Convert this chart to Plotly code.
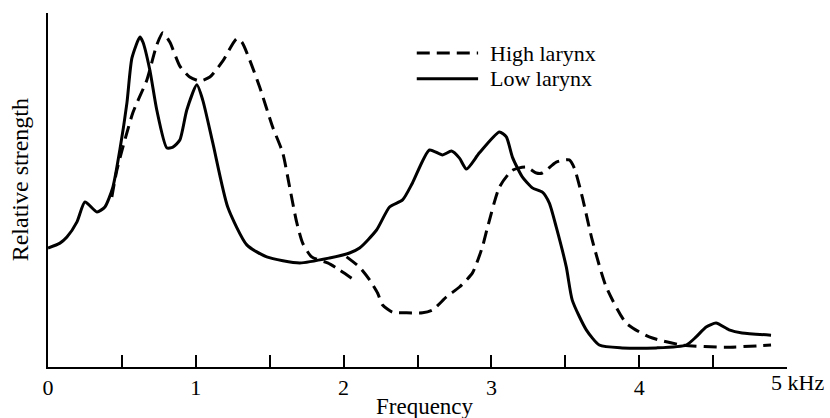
import plotly.graph_objects as go

# Spectral envelopes: frequency in kHz, relative strength in arbitrary units (0-100)
low_freq = [0.00, 0.081, 0.128, 0.196, 0.25, 0.331, 0.385, 0.439, 0.486, 0.534, 0.568, 0.622,
            0.642, 0.689, 0.736, 0.804, 0.845, 0.892, 0.939, 1.007, 1.047, 1.115, 1.216, 1.345,
            1.48, 1.703, 1.905, 2.04, 2.108, 2.223, 2.311, 2.399, 2.466, 2.581, 2.669, 2.730,
            2.784, 2.831, 2.919, 3.054, 3.101, 3.142, 3.209, 3.277, 3.345, 3.392, 3.439, 3.507,
            3.547, 3.642, 3.730, 3.885, 4.115, 4.318, 4.385, 4.453, 4.520, 4.608, 4.696, 4.892]
low_strength = [33.6, 35.0, 36.7, 41.0, 46.6, 43.8, 45.2, 50.8, 61.3, 74.6, 87.3, 93.2,
                91.8, 83.9, 72.6, 61.9, 62.1, 64.1, 72.6, 79.7, 75.4, 63.3, 45.2, 34.5,
                31.1, 29.4, 30.8, 32.2, 33.6, 38.7, 45.2, 47.2, 52.0, 61.3, 59.9, 61.0,
                59.0, 55.9, 60.5, 66.4, 65.0, 59.3, 53.7, 50.6, 49.4, 46.3, 39.5, 28.2,
                18.9, 10.5, 6.2, 5.4, 5.4, 6.2, 8.5, 11.3, 12.4, 10.5, 9.6, 9.0]

# High larynx curve is drawn in two pieces (short stray branch near 2 kHz, then the main run)
high_freq = [0.432, 0.466, 0.574, 0.669, 0.736, 0.777, 0.824, 0.892, 0.959, 1.027, 1.095,
             1.182, 1.277, 1.311, 1.365, 1.432, 1.520, 1.588, 1.635, 1.682, 1.723, 1.784,
             1.892, 1.973, 2.054, None,
             2.020, 2.108, 2.176, 2.230, 2.264, 2.331, 2.426, 2.534, 2.601, 2.696, 2.784,
             2.872, 2.939, 2.973, 3.054, 3.142, 3.236, 3.304, 3.345, 3.439, 3.527, 3.561,
             3.615, 3.682, 3.777, 3.912, 4.068, 4.291, 4.588, 4.892]
high_strength = [48.0, 55.6, 71.8, 81.1, 91.0, 94.4, 91.8, 85.0, 81.9, 80.8, 81.9,
                 86.4, 92.7, 91.8, 86.7, 79.1, 67.8, 60.5, 50.8, 41.0, 35.0, 31.1,
                 29.4, 27.4, 25.1, None,
                 31.1, 28.2, 24.6, 20.9, 17.5, 15.5, 15.3, 15.3, 16.1, 19.8, 22.6,
                 26.6, 33.9, 39.3, 50.8, 55.6, 56.5, 54.8, 54.8, 57.9, 58.5, 56.2,
                 48.0, 35.9, 22.6, 12.4, 8.5, 6.2, 5.6, 6.2]

tick_vals = [0, 0.5, 1, 1.5, 2, 2.5, 3, 3.5, 4, 4.5, 5]
tick_text = ["0", "", "1", "", "2", "", "3", "", "4", "", ""]

FONT = "Liberation Serif"
DASH = "13px,7px"

fig = go.Figure()
fig.add_trace(go.Scatter(x=high_freq, y=high_strength, mode="lines", name="High larynx",
                         line=dict(color="black", width=3, dash=DASH, shape="spline", smoothing=0.6),
                         connectgaps=False, showlegend=False))
fig.add_trace(go.Scatter(x=low_freq, y=low_strength, mode="lines", name="Low larynx",
                         line=dict(color="black", width=3, shape="spline", smoothing=0.6),
                         showlegend=False))

fig.update_layout(
    width=830, height=418,
    margin=dict(l=48, r=43, t=13, b=51),
    paper_bgcolor="white", plot_bgcolor="white",
    font=dict(family=FONT, size=22, color="black"),
    xaxis=dict(range=[0, 5], showgrid=False, zeroline=False,
               showline=True, linecolor="black", linewidth=2,
               tickmode="array", tickvals=tick_vals, ticktext=tick_text,
               ticks="inside", ticklen=12, tickwidth=1.5, tickcolor="black",
               tickfont=dict(family=FONT, size=22), ticklabelstandoff=0),
    yaxis=dict(range=[0, 100], showgrid=False, zeroline=False,
               showline=True, linecolor="black", linewidth=2,
               showticklabels=False, ticks=""),
)

# Axis titles
fig.add_annotation(text="Frequency", xref="paper", yref="paper", x=0.51, y=-0.112,
                   xanchor="center", yanchor="middle", showarrow=False,
                   font=dict(family=FONT, size=23))
fig.add_annotation(text="Relative strength", xref="paper", yref="paper", x=-0.038, y=0.53,
                   xanchor="center", yanchor="middle", textangle=-90, showarrow=False,
                   font=dict(family=FONT, size=24))
fig.add_annotation(text="5 kHz", xref="x", yref="paper", x=4.88, y=-0.045,
                   xanchor="left", yanchor="middle", showarrow=False,
                   font=dict(family=FONT, size=22))

# Key
fig.add_shape(type="line", xref="paper", yref="paper", x0=0.499, x1=0.582, y0=0.887, y1=0.887,
              line=dict(color="black", width=3, dash=DASH))
fig.add_shape(type="line", xref="paper", yref="paper", x0=0.499, x1=0.582, y0=0.814, y1=0.814,
              line=dict(color="black", width=3))
fig.add_annotation(text="High larynx", xref="paper", yref="paper", x=0.595, y=0.887,
                   xanchor="left", yanchor="middle", showarrow=False,
                   font=dict(family=FONT, size=22))
fig.add_annotation(text="Low larynx", xref="paper", yref="paper", x=0.595, y=0.814,
                   xanchor="left", yanchor="middle", showarrow=False,
                   font=dict(family=FONT, size=22))

fig.write_html("out.html")
